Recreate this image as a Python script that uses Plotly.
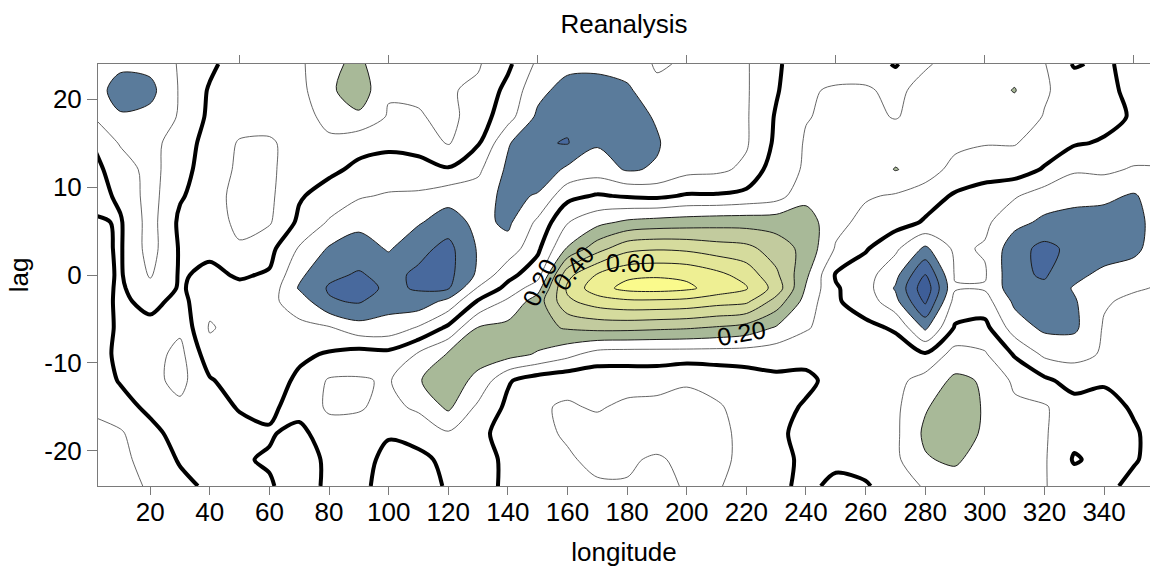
import plotly.graph_objects as go

# Longitude grid (degrees east) and lag grid (days)
lons = list(range(0, 361, 10))
lags = [24, 21, 18, 15, 12, 9, 6, 3, 0, -1.5, -3, -6, -9, -12, -15, -18, -21, -24]

# Lag-longitude correlation, one list per lag (west -> east)
corr_p24 = [-0.15, -0.18, -0.17, -0.09, -0.02, 0.05, 0.07, 0.08, 0.18, 0.22, 0.13, 0.12, 0.12, 0.11, 0.02, -0.12, -0.17, -0.17, -0.15, -0.09, -0.11, -0.12, -0.11, -0.01, 0.04, 0.06, 0.06, -0.01, 0.09, 0.13, 0.14, 0.16, 0.105, -0.01, 0.02, -0.04, -0.06]
corr_p21 = [-0.15, -0.24, -0.23, -0.09, 0.01, 0.05, 0.06, 0.07, 0.18, 0.26, 0.11, 0.12, 0.11, 0.08, -0.03, -0.17, -0.24, -0.25, -0.22, -0.12, -0.12, -0.13, -0.11, -0.01, 0.09, 0.11, 0.11, 0.08, 0.13, 0.15, 0.16, 0.205, 0.11, 0.06, 0.03, -0.03, -0.06]
corr_p18 = [-0.095, -0.19, -0.17, -0.09, 0.02, 0.05, 0.07, 0.06, 0.13, 0.18, 0.09, 0.09, 0.13, 0.05, -0.06, -0.22, -0.28, -0.25, -0.24, -0.19, -0.13, -0.12, -0.11, 0.01, 0.095, 0.12, 0.12, 0.095, 0.13, 0.15, 0.15, 0.15, 0.095, 0.05, 0.03, -0.01, -0.04]
corr_p15 = [0.01, -0.11, -0.14, -0.04, 0.03, 0.11, 0.11, 0.07, 0.08, 0.03, 0.02, 0.02, 0.11, 0.01, -0.19, -0.29, -0.305, -0.21, -0.25, -0.21, -0.13, -0.12, -0.11, 0.02, 0.11, 0.12, 0.12, 0.15, 0.15, 0.13, 0.105, 0.105, 0.06, 0.01, -0.01, -0.04, -0.06]
corr_p12 = [0.03, -0.04, -0.14, -0.03, 0.04, 0.12, 0.12, 0.04, 0.02, -0.02, -0.04, -0.02, -0.01, -0.08, -0.22, -0.27, -0.18, -0.15, -0.21, -0.19, -0.13, -0.12, -0.08, 0.06, 0.11, 0.12, 0.13, 0.205, 0.16, 0.06, 0.05, 0.05, -0.01, -0.09, -0.08, -0.11, -0.105]
corr_p09 = [0.05, -0.02, -0.14, -0.01, 0.05, 0.14, 0.12, 0.01, -0.04, -0.09, -0.11, -0.12, -0.16, -0.15, -0.23, -0.19, -0.03, 0.01, -0.01, -0.02, 0.01, 0.01, 0.03, 0.06, 0.17, 0.12, 0.11, 0.09, 0.04, -0.01, -0.05, -0.09, -0.15, -0.16, -0.18, -0.21, -0.14]
corr_p06 = [-0.02, 0.01, -0.14, 0.02, 0.06, 0.12, 0.11, -0.02, -0.11, -0.17, -0.15, -0.19, -0.25, -0.17, -0.22, -0.08, 0.095, 0.17, 0.22, 0.24, 0.25, 0.26, 0.26, 0.26, 0.25, 0.13, 0.07, 0.04, -0.01, -0.09, -0.08, -0.17, -0.22, -0.25, -0.24, -0.23, -0.15]
corr_p03 = [-0.03, 0.01, -0.14, 0.01, 0.02, 0.09, 0.03, -0.11, -0.21, -0.25, -0.19, -0.27, -0.33, -0.19, -0.16, -0.02, 0.21, 0.36, 0.47, 0.49, 0.48, 0.45, 0.43, 0.35, 0.27, 0.09, 0.01, -0.08, -0.22, -0.08, -0.11, -0.26, -0.33, -0.27, -0.26, -0.23, -0.12]
corr_000 = [-0.04, 0.01, -0.11, 0.01, -0.02, 0.01, -0.01, -0.18, -0.28, -0.31, -0.27, -0.32, -0.33, -0.18, -0.03, 0.06, 0.47, 0.61, 0.68, 0.69, 0.68, 0.63, 0.56, 0.42, 0.22, -0.01, -0.06, -0.17, -0.41, -0.09, -0.09, -0.28, -0.31, -0.23, -0.17, -0.14, -0.11]
corr_m1h = [-0.05, 0.015, -0.07, 0.01, -0.04, -0.02, -0.04, -0.21, -0.31, -0.34, -0.28, -0.31, -0.31, -0.09, 0.03, 0.16, 0.52, 0.66, 0.73, 0.74, 0.72, 0.66, 0.61, 0.46, 0.19, 0.01, -0.06, -0.21, -0.47, -0.11, -0.11, -0.26, -0.28, -0.19, -0.14, -0.11, -0.09]
corr_m03 = [-0.06, 0.02, -0.03, 0.03, -0.07, -0.05, -0.08, -0.14, -0.29, -0.31, -0.24, -0.26, -0.17, 0.01, 0.12, 0.25, 0.48, 0.55, 0.58, 0.58, 0.57, 0.54, 0.52, 0.36, 0.16, 0.01, -0.04, -0.17, -0.42, -0.06, -0.06, -0.22, -0.26, -0.21, -0.11, -0.08, -0.08]
corr_m06 = [-0.07, 0.02, 0.03, 0.08, -0.11, -0.06, -0.06, -0.08, -0.09, -0.16, -0.16, -0.09, 0.02, 0.205, 0.23, 0.27, 0.31, 0.33, 0.33, 0.32, 0.31, 0.29, 0.26, 0.19, 0.11, 0.05, 0.02, -0.01, -0.22, 0.01, 0.03, -0.15, -0.22, -0.22, -0.09, -0.08, -0.08]
corr_m09 = [-0.07, 0.03, 0.06, 0.13, -0.06, -0.06, -0.05, -0.02, 0.01, 0.04, 0.03, 0.11, 0.21, 0.23, 0.24, 0.19, 0.13, 0.06, 0.05, 0.05, 0.05, 0.05, 0.05, 0.04, 0.03, 0.03, 0.05, 0.04, 0.01, 0.14, 0.11, -0.01, -0.12, -0.13, -0.09, -0.06, -0.06]
corr_m12 = [-0.08, 0.01, 0.07, 0.13, 0.01, -0.05, -0.05, 0.02, 0.11, 0.11, 0.09, 0.195, 0.24, 0.18, 0.01, -0.05, -0.07, -0.07, -0.06, -0.06, -0.09, -0.07, -0.05, -0.02, -0.02, 0.03, 0.05, 0.07, 0.14, 0.22, 0.19, 0.08, 0.02, -0.04, -0.01, -0.04, -0.05]
corr_m15 = [-0.09, -0.05, 0.03, 0.08, 0.05, -0.01, -0.02, 0.04, 0.115, 0.11, 0.07, 0.12, 0.22, 0.08, -0.02, -0.09, -0.11, -0.09, -0.12, -0.13, -0.13, -0.11, -0.07, -0.03, 0.01, 0.05, 0.07, 0.08, 0.19, 0.26, 0.19, 0.12, 0.11, 0.04, 0.03, -0.01, -0.04]
corr_m18 = [-0.12, -0.11, -0.04, 0.05, 0.06, 0.04, 0.01, -0.03, 0.06, 0.06, 0.01, 0.03, 0.09, 0.02, -0.03, -0.08, -0.11, -0.14, -0.14, -0.14, -0.13, -0.12, -0.08, -0.02, 0.03, 0.04, 0.07, 0.08, 0.22, 0.27, 0.18, 0.12, 0.11, 0.03, 0.04, 0.01, -0.04]
corr_m21 = [-0.13, -0.12, -0.07, 0.01, 0.03, 0.01, -0.01, -0.05, 0.02, 0.04, -0.03, -0.02, 0.02, 0.02, -0.01, -0.06, -0.09, -0.12, -0.11, -0.09, -0.12, -0.12, -0.08, -0.03, 0.02, 0.02, 0.04, 0.08, 0.19, 0.22, 0.14, 0.12, 0.11, -0.01, 0.03, 0.01, -0.05]
corr_m24 = [-0.14, -0.13, -0.09, -0.03, 0.02, 0.02, 0.01, -0.05, 0.02, 0.02, -0.03, -0.04, 0.01, 0.02, -0.01, -0.05, -0.07, -0.09, -0.095, -0.07, -0.11, -0.11, -0.06, -0.02, 0.02, -0.02, -0.01, 0.05, 0.11, 0.14, 0.13, 0.12, 0.105, 0.05, 0.03, -0.03, -0.05]

rows = [corr_p24, corr_p21, corr_p18, corr_p15, corr_p12, corr_p09, corr_p06, corr_p03,
        corr_000, corr_m1h, corr_m03, corr_m06, corr_m09, corr_m12, corr_m15, corr_m18,
        corr_m21, corr_m24]

# plotly wants increasing y
lag_axis = lags[::-1]
z = rows[::-1]

x_ticks = list(range(20, 341, 20))
top_ticks = list(range(50, 351, 50))
y_ticks = [-20, -10, 0, 10, 20]
y_tick_text = ["-20", "-10", "0", "10", "20"]

FONT = "Liberation Sans, Arial, sans-serif"
AXIS_GREY = "#7a7a7a"

# one colour per band: <-0.5, -0.5..-0.4, ..., 0.7..0.8, >0.8
band_colors = [
    "#36558f", "#3e5e98", "#48699d", "#5a7b9b",
    "#ffffff", "#ffffff", "#ffffff", "#ffffff",
    "#a8b998", "#c2cb9e", "#d5db9d", "#e3e698", "#eeef93", "#fafa8c", "#ffff88",
]
n_bands = len(band_colors)
band_scale = [[k / (n_bands - 1), c] for k, c in enumerate(band_colors)]

SMOOTH = 0.85

fig = go.Figure()

# filled bands
fig.add_trace(go.Contour(
    x=lons, y=lag_axis, z=z,
    autocontour=False,
    contours=dict(start=-0.5, end=0.8, size=0.1, coloring="fill", showlines=False),
    colorscale=band_scale, showscale=False,
    line=dict(width=0, smoothing=SMOOTH),
    hoverinfo="skip",
))

# thin lines bounding the shaded bands
for lo, hi in [(-0.5, -0.2), (0.2, 0.8)]:
    fig.add_trace(go.Contour(
        x=lons, y=lag_axis, z=z,
        autocontour=False,
        contours=dict(start=lo, end=hi, size=0.1, coloring="none"),
        line=dict(color="#1c1c1c", width=1, smoothing=SMOOTH),
        showscale=False, hoverinfo="skip",
    ))

# +/-0.1 lines
fig.add_trace(go.Contour(
    x=lons, y=lag_axis, z=z,
    autocontour=False,
    contours=dict(start=-0.1, end=0.1, size=0.2, coloring="none"),
    line=dict(color="#555555", width=0.9, smoothing=SMOOTH),
    showscale=False, hoverinfo="skip",
))

# heavy zero line (on the overlaid top axis so that axis gets drawn)
fig.add_trace(go.Contour(
    x=lons, y=lag_axis, z=z,
    autocontour=False,
    contours=dict(start=0, end=0, size=0.1, coloring="none"),
    line=dict(color="#000000", width=4, smoothing=SMOOTH),
    showscale=False, hoverinfo="skip",
    xaxis="x2",
))

label_font = dict(family=FONT, size=25, color="#000000")
contour_labels = [
    ("0.60", 181, 1.4, 0),
    ("0.40", 162, 0.8, -51),
    ("0.20", 150.7, -0.8, -65),
    ("0.20", 218.5, -6.6, -10),
]
for text, lx, ly, ang in contour_labels:
    fig.add_annotation(x=lx, y=ly, xref="x", yref="y", text=text, showarrow=False,
                       textangle=ang, font=label_font)

x_range = [2.5, 355.4]

fig.update_layout(
    width=1150, height=571,
    margin=dict(l=98, r=0, t=64, b=85),
    paper_bgcolor="white", plot_bgcolor="white",
    font=dict(family=FONT, size=26, color="#000000"),
    showlegend=False,
    title=dict(text="Reanalysis", x=0.5, xref="paper", y=1 - 24 / 571, yref="container",
               yanchor="middle", font=dict(family=FONT, size=26, color="#000000")),
    xaxis=dict(
        range=x_range, tickmode="array", tickvals=x_ticks,
        ticks="outside", ticklen=8, tickwidth=1, tickcolor=AXIS_GREY,
        ticklabelstandoff=-5,
        showline=True, linecolor=AXIS_GREY, linewidth=1,
        showgrid=False, zeroline=False,
        tickfont=dict(size=26),
        title=dict(text="longitude", standoff=16, font=dict(size=26)),
    ),
    xaxis2=dict(
        range=x_range, overlaying="x", side="top", matches="x",
        tickmode="array", tickvals=top_ticks, showticklabels=False,
        ticks="outside", ticklen=8, tickwidth=1, tickcolor=AXIS_GREY,
        showline=True, linecolor=AXIS_GREY, linewidth=1,
        showgrid=False, zeroline=False,
    ),
    yaxis=dict(
        range=[-24, 24], tickmode="array", tickvals=y_ticks, ticktext=y_tick_text,
        ticks="outside", ticklen=10, tickwidth=1, tickcolor=AXIS_GREY,
        showline=True, linecolor=AXIS_GREY, linewidth=1,
        showgrid=False, zeroline=False,
        tickfont=dict(size=26),
        title=dict(text="lag", standoff=8, font=dict(size=26)),
    ),
)

fig.write_html("out.html")
